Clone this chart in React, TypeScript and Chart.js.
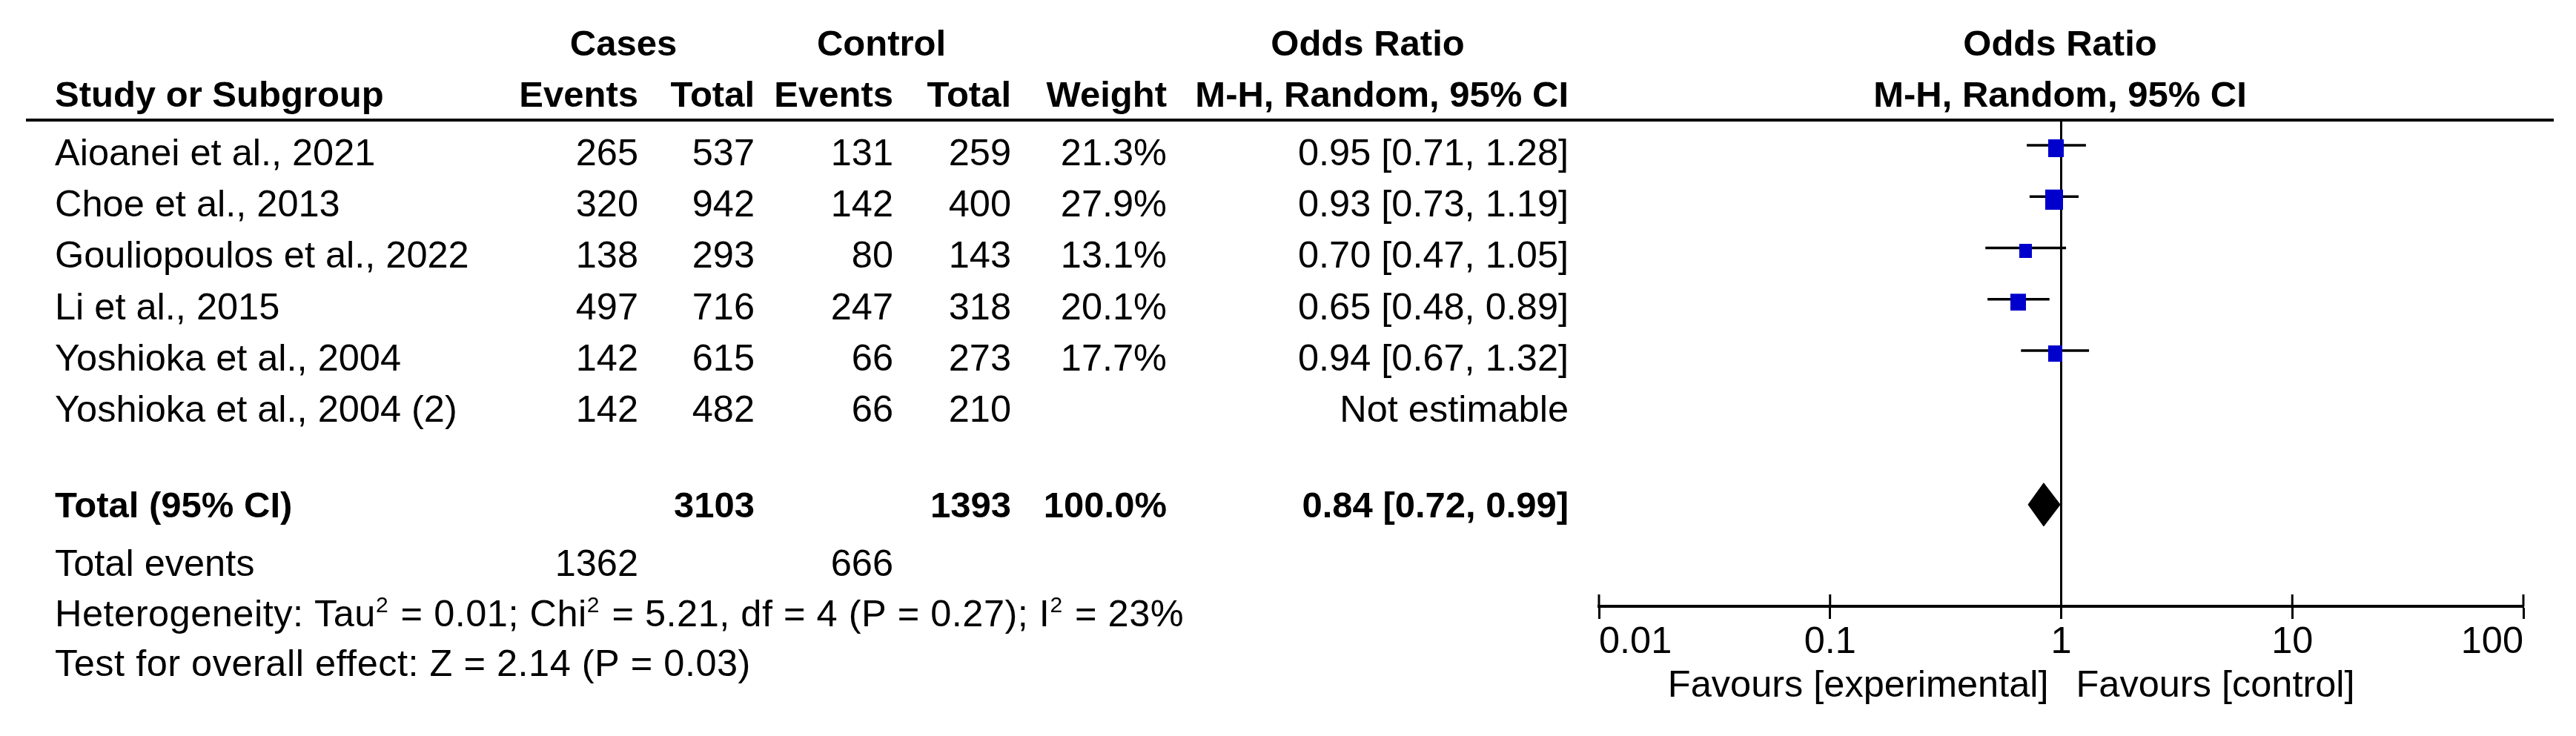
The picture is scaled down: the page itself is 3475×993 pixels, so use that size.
import React, { useEffect, useRef } from "react";
import { Chart, registerables } from "chart.js";

Chart.register(...registerables);

// ---------- data ----------
const STUDIES = [
  "Aioanei et al., 2021",
  "Choe et al., 2013",
  "Gouliopoulos et al., 2022",
  "Li et al., 2015",
  "Yoshioka et al., 2004",
  "Yoshioka et al., 2004 (2)",
];
const CASE_EVENTS = [265, 320, 138, 497, 142, 142];
const CASE_TOTAL = [537, 942, 293, 716, 615, 482];
const CONTROL_EVENTS = [131, 142, 80, 247, 66, 66];
const CONTROL_TOTAL = [259, 400, 143, 318, 273, 210];
const WEIGHTS: (number | null)[] = [21.3, 27.9, 13.1, 20.1, 17.7, null];
const ODDS: (number | null)[] = [0.95, 0.93, 0.7, 0.65, 0.94, null];
const CI_LOW: (number | null)[] = [0.71, 0.73, 0.47, 0.48, 0.67, null];
const CI_HIGH: (number | null)[] = [1.28, 1.19, 1.05, 0.89, 1.32, null];

const TOTAL_CASES = 3103;
const TOTAL_CONTROL = 1393;
const TOTAL_WEIGHT = 100.0;
const POOLED_OR = 0.84;
const POOLED_LOW = 0.72;
const POOLED_HIGH = 0.99;
const TOTAL_EVENTS_CASES = 1362;
const TOTAL_EVENTS_CONTROL = 666;
const TAU2 = "0.01";
const CHI2 = "5.21";
const DF = 4;
const P_HET = "0.27";
const I2 = 23;
const Z_VALUE = "2.14";
const P_OVERALL = "0.03";

const X_TICKS = [0.01, 0.1, 1, 10, 100];
const X_TICK_LABELS = ["0.01", "0.1", "1", "10", "100"];
const FAVOURS_LEFT = "Favours [experimental]";
const FAVOURS_RIGHT = "Favours [control]";

// ---------- layout / style ----------
const W = 3475;
const H = 993;
const FONT = '"Liberation Sans", Arial, sans-serif';
const REG = 50.5;
const BOLD = 49;
const SUP = 30;
const TOTAL_ROW = 7;
const DIAMOND_HALF = 0.42;
const SQUARE_K = 4.6;
const BLUE = "#0000CC";

const X_NAME = 74;
const X_CASE_EV = 861;
const X_CASE_TOT = 1018;
const X_CTL_EV = 1205;
const X_CTL_TOT = 1364;
const X_WEIGHT = 1574;
const X_OR = 2116;

const Y_HEAD1 = 75;
const Y_HEAD2 = 144;
const Y_RULE = 162;
const ROW_TEXT_OFFSET = 27;
const Y_TOTAL = 698;
const Y_TOTAL_EVENTS = 777;
const Y_HET = 845;
const Y_TEST = 912;
const Y_FAVOURS = 940;

const fmt2 = (v: number) => v.toFixed(2);
const orText = (o: number, l: number, h: number) => `${fmt2(o)} [${fmt2(l)}, ${fmt2(h)}]`;

function makeSquare(weight: number): HTMLCanvasElement {
  const s = SQUARE_K * Math.sqrt(weight);
  const w = Math.max(2, Math.round(s));
  const h = Math.max(2, Math.round(s * 1.12));
  const pad = 8;
  const c = document.createElement("canvas");
  c.width = w;
  c.height = h + pad;
  const cx = c.getContext("2d")!;
  cx.fillStyle = BLUE;
  cx.fillRect(0, pad, w, h);
  return c;
}

const tablePlugin = {
  id: "forestTable",
  beforeDatasetsDraw(chart: any) {
    const { ctx, chartArea, scales } = chart;
    const px = scales.x.getPixelForValue(1);
    ctx.save();
    ctx.strokeStyle = "#000";
    ctx.lineWidth = 3;
    ctx.beginPath();
    ctx.moveTo(px, chartArea.top);
    ctx.lineTo(px, chartArea.bottom);
    ctx.stroke();
    ctx.restore();
  },
  afterDraw(chart: any) {
    const { ctx, chartArea, scales } = chart;
    const ys = scales.y;
    const xs = scales.x;
    ctx.save();
    ctx.fillStyle = "#000";
    ctx.textBaseline = "alphabetic";

    // upper half of tick marks
    ctx.strokeStyle = "#000";
    ctx.lineWidth = 3;
    X_TICKS.forEach((v) => {
      const p = xs.getPixelForValue(v);
      ctx.beginPath();
      ctx.moveTo(p, chartArea.bottom - 16);
      ctx.lineTo(p, chartArea.bottom);
      ctx.stroke();
    });

    // header rule
    ctx.lineWidth = 4;
    ctx.beginPath();
    ctx.moveTo(35, Y_RULE);
    ctx.lineTo(3445, Y_RULE);
    ctx.stroke();

    const t = (s: string, x: number, y: number, align: CanvasTextAlign, bold = false) => {
      ctx.font = `${bold ? "bold " : ""}${bold ? BOLD : REG}px ${FONT}`;
      ctx.textAlign = align;
      ctx.fillText(s, x, y);
    };

    // headers
    t("Cases", 841, Y_HEAD1, "center", true);
    t("Control", 1189, Y_HEAD1, "center", true);
    t("Odds Ratio", 1845, Y_HEAD1, "center", true);
    t("Odds Ratio", 2779, Y_HEAD1, "center", true);
    t("Study or Subgroup", X_NAME, Y_HEAD2, "left", true);
    t("Events", X_CASE_EV, Y_HEAD2, "right", true);
    t("Total", X_CASE_TOT, Y_HEAD2, "right", true);
    t("Events", X_CTL_EV, Y_HEAD2, "right", true);
    t("Total", X_CTL_TOT, Y_HEAD2, "right", true);
    t("Weight", X_WEIGHT, Y_HEAD2, "right", true);
    t("M-H, Random, 95% CI", X_OR, Y_HEAD2, "right", true);
    t("M-H, Random, 95% CI", 2779, Y_HEAD2, "center", true);

    // study rows
    STUDIES.forEach((name, i) => {
      const y = ys.getPixelForValue(i) + ROW_TEXT_OFFSET;
      t(name, X_NAME, y, "left");
      t(String(CASE_EVENTS[i]), X_CASE_EV, y, "right");
      t(String(CASE_TOTAL[i]), X_CASE_TOT, y, "right");
      t(String(CONTROL_EVENTS[i]), X_CTL_EV, y, "right");
      t(String(CONTROL_TOTAL[i]), X_CTL_TOT, y, "right");
      const w = WEIGHTS[i];
      if (w != null) t(`${w.toFixed(1)}%`, X_WEIGHT, y, "right");
      const o = ODDS[i];
      if (o != null) t(orText(o, CI_LOW[i] as number, CI_HIGH[i] as number), X_OR, y, "right");
      else t("Not estimable", X_OR, y, "right");
    });

    // total row
    t("Total (95% CI)", X_NAME, Y_TOTAL, "left", true);
    t(String(TOTAL_CASES), X_CASE_TOT, Y_TOTAL, "right", true);
    t(String(TOTAL_CONTROL), X_CTL_TOT, Y_TOTAL, "right", true);
    t(`${TOTAL_WEIGHT.toFixed(1)}%`, X_WEIGHT, Y_TOTAL, "right", true);
    t(orText(POOLED_OR, POOLED_LOW, POOLED_HIGH), X_OR, Y_TOTAL, "right", true);

    t("Total events", X_NAME, Y_TOTAL_EVENTS, "left");
    t(String(TOTAL_EVENTS_CASES), X_CASE_EV, Y_TOTAL_EVENTS, "right");
    t(String(TOTAL_EVENTS_CONTROL), X_CTL_EV, Y_TOTAL_EVENTS, "right");

    // heterogeneity with superscripts
    (ctx as any).letterSpacing = "0.5px";
    const parts: [string, boolean][] = [
      ["Heterogeneity: Tau", false],
      ["2", true],
      [` = ${TAU2}; Chi`, false],
      ["2", true],
      [` = ${CHI2}, df = ${DF} (P = ${P_HET}); I`, false],
      ["2", true],
      [` = ${I2}%`, false],
    ];
    let cx = X_NAME;
    ctx.textAlign = "left";
    parts.forEach(([s, sup]) => {
      ctx.font = `${sup ? SUP : REG}px ${FONT}`;
      ctx.fillText(s, cx, sup ? Y_HET - 19 : Y_HET);
      cx += ctx.measureText(s).width + (sup ? 2 : 0);
    });

    t(`Test for overall effect: Z = ${Z_VALUE} (P = ${P_OVERALL})`, X_NAME, Y_TEST, "left");
    (ctx as any).letterSpacing = "0px";

    // favours labels
    const one = xs.getPixelForValue(1);
    t(FAVOURS_LEFT, one - 17, Y_FAVOURS, "right");
    t(FAVOURS_RIGHT, one + 20, Y_FAVOURS, "left");

    ctx.restore();
  },
};

export default function App() {
  const ref = useRef<HTMLCanvasElement>(null);

  useEffect(() => {
    document.body.style.margin = "0";
    document.documentElement.style.overflow = "hidden";
    const canvas = ref.current!;

    const est = STUDIES.map((_, i) => i).filter((i) => ODDS[i] != null);

    const ciSets = est.map((i) => ({
      type: "line" as const,
      data: [
        { x: CI_LOW[i] as number, y: i },
        { x: CI_HIGH[i] as number, y: i },
      ],
      borderColor: "#000",
      borderWidth: 3.5,
      pointRadius: 0,
      fill: false,
      order: 3,
    }));

    const squareSet = {
      type: "line" as const,
      data: est.map((i) => ({ x: ODDS[i] as number, y: i })),
      showLine: false,
      pointStyle: est.map((i) => makeSquare(WEIGHTS[i] as number)),
      pointRadius: 12,
      borderWidth: 0,
      order: 1,
    };

    const diamondSet = {
      type: "line" as const,
      data: [
        { x: POOLED_LOW, y: TOTAL_ROW },
        { x: POOLED_OR, y: TOTAL_ROW - DIAMOND_HALF },
        { x: POOLED_HIGH, y: TOTAL_ROW },
        { x: POOLED_OR, y: TOTAL_ROW + DIAMOND_HALF },
        { x: POOLED_LOW, y: TOTAL_ROW },
      ],
      borderColor: "#000",
      backgroundColor: "#000",
      borderWidth: 1,
      pointRadius: 0,
      tension: 0,
      fill: "shape" as any,
      order: 2,
    };

    const chart = new Chart(canvas, {
      type: "line",
      data: { datasets: [...ciSets, squareSet, diamondSet] as any },
      options: {
        responsive: false,
        animation: false,
        devicePixelRatio: 1,
        events: [],
        layout: { padding: { left: 2157, right: 71, top: 162, bottom: 0 } },
        plugins: {
          legend: { display: false },
          tooltip: { enabled: false },
          title: { display: false },
        },
        scales: {
          x: {
            type: "logarithmic",
            min: 0.01,
            max: 100,
            position: "bottom",
            afterBuildTicks: (s: any) => {
              s.ticks = X_TICKS.map((v) => ({ value: v }));
            },
            afterFit: (s: any) => {
              s.height = 175;
            },
            border: { display: true, color: "#000", width: 4 },
            grid: {
              display: true,
              drawOnChartArea: false,
              drawTicks: true,
              tickLength: 17,
              tickWidth: 3,
              tickColor: "#000",
              color: "#000",
            },
            ticks: {
              color: "#000",
              font: { family: FONT, size: REG },
              align: "inner",
              padding: 2,
              autoSkip: false,
              maxRotation: 0,
              callback: (_v: any, i: number) => X_TICK_LABELS[i],
            },
          },
          y: {
            type: "linear",
            display: false,
            reverse: true,
            min: -0.49,
            max: 8.98,
          },
        },
      } as any,
      plugins: [tablePlugin],
    });

    return () => chart.destroy();
  }, []);

  return (
    <div style={{ width: W, height: H, background: "#fff", overflow: "hidden" }}>
      <canvas ref={ref} width={W} height={H} style={{ display: "block", width: W, height: H }} />
    </div>
  );
}
